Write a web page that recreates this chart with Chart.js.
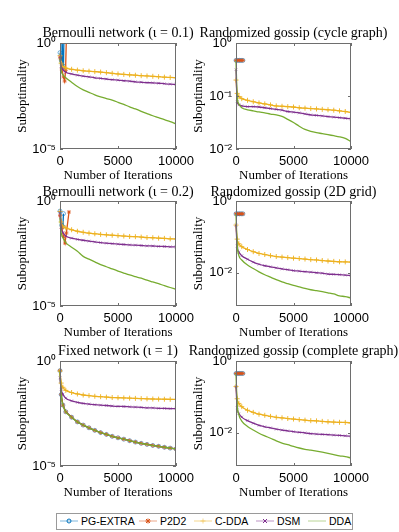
<!DOCTYPE html>
<html>
<head>
<meta charset="utf-8">
<script src="https://cdn.jsdelivr.net/npm/chart.js@4.4.1/dist/chart.umd.min.js"></script>
<style>
  body { margin: 0; background: #fff; width: 399px; height: 532px; position: relative; overflow: hidden; }
  .panel { position: absolute; }
  #legend { position: absolute; left: 56px; top: 513px; width: 295px; height: 15px; border: 1px solid #9a9a9a; background: #fff;
            font-family: 'Liberation Sans', Arial, sans-serif; font-size: 10.5px; color: #000; }
  #legend .item { position: absolute; top: 0; height: 15px; line-height: 15px; white-space: nowrap; }
  #legend svg { vertical-align: middle; margin-right: 3px; margin-top: -2px; }
</style>
</head>
<body>
<div id="legend"></div>
<script>
// Series shared by every panel
const seriesNames = ['PG-EXTRA', 'P2D2', 'C-DDA', 'DSM', 'DDA'];
const seriesColors = ['#0072BD', '#D95319', '#EDB120', '#7E2F8E', '#77AC30'];
const markerColors = ['rgba(0,114,189,0.55)', 'rgba(217,83,25,0.8)', 'rgba(237,177,32,0.9)', 'rgba(126,47,142,0.45)', 'rgba(0,0,0,0)'];
const pointStyles = ['circle', 'star', 'cross', 'crossRot', 'circle'];
const pointRadii = [2, 2, 2.5, 2, 0];

// Iterations sampled along the x axis
const iters = [0, 100, 250, 500, 1000, 1500, 2000, 2500, 3000, 3500, 4000, 4500, 5000, 5500, 6000, 6500, 7000, 7500, 8000, 8500, 9000, 9500, 10000];
const xTickValues = [0, 5000, 10000];

// Bernoulli network (iota = 0.1)
const pgIters1 = [0, 120, 170, 250, 300, 345];
const pg1 = [0.35, 0.15, 3, 0.07, 0.08, 3];
const p2Iters1 = [0, 150, 300, 400, 480, 560];
const p2d21 = [0.2, 0.06, 0.025, 0.016, 0.05, 3];
const cdda1 = [0.25, 0.112, 0.079, 0.066, 0.0575, 0.0525, 0.049, 0.0468, 0.0447, 0.0427, 0.0398, 0.0372, 0.0347, 0.0331, 0.0316, 0.0302, 0.0288, 0.0279, 0.0269, 0.0257, 0.0245, 0.0237, 0.0229];
const dsm1 = [0.224, 0.0794, 0.0562, 0.0417, 0.0347, 0.0302, 0.0275, 0.0251, 0.0229, 0.0214, 0.02, 0.0186, 0.0178, 0.0166, 0.0158, 0.0148, 0.0141, 0.0135, 0.0132, 0.0126, 0.012, 0.0115, 0.0112];
const dda1 = [0.2, 0.05, 0.0316, 0.0229, 0.0141, 0.0089, 0.0062, 0.0047, 0.0036, 0.0029, 0.0024, 0.002, 0.0016, 0.00126, 0.00098, 0.00078, 0.0006, 0.00047, 0.00037, 0.0003, 0.00024, 0.000195, 0.000155];

// Randomized gossip (cycle graph)
const shortIters = [0, 150, 300, 450, 600];
const pg2 = [0.47, 0.47, 0.47, 0.47, 0.47];
const p2d22 = [0.47, 0.47, 0.47, 0.47, 0.47];
const cdda2 = [0.2, 0.112, 0.098, 0.089, 0.083, 0.078, 0.074, 0.071, 0.068, 0.065, 0.064, 0.063, 0.062, 0.06, 0.059, 0.058, 0.057, 0.056, 0.055, 0.054, 0.0525, 0.051, 0.049];
const dsm2 = [0.316, 0.079, 0.068, 0.065, 0.063, 0.063, 0.062, 0.06, 0.058, 0.056, 0.054, 0.051, 0.0495, 0.048, 0.046, 0.044, 0.043, 0.042, 0.041, 0.04, 0.039, 0.038, 0.037];
const dda2 = [0.468, 0.1, 0.071, 0.06, 0.055, 0.0525, 0.05, 0.048, 0.0457, 0.0442, 0.0412, 0.0363, 0.0316, 0.0269, 0.0234, 0.0216, 0.0204, 0.0195, 0.0186, 0.0178, 0.017, 0.0158, 0.0138];

// Bernoulli network (iota = 0.2)
const pgIters3 = [0, 150, 250, 300];
const pg3 = [0.33, 0.07, 0.06, 0.25];
const p2Iters3 = [0, 150, 300, 430, 550, 775];
const p2d23 = [0.2, 0.05, 0.02, 0.01, 0.03, 0.3];
const cdda3 = [0.316, 0.1, 0.063, 0.0525, 0.0427, 0.0363, 0.0324, 0.0295, 0.0275, 0.0257, 0.0245, 0.0234, 0.0224, 0.0214, 0.0204, 0.02, 0.0191, 0.0182, 0.0178, 0.017, 0.0166, 0.0158, 0.0155];
const dsm3 = [0.282, 0.0562, 0.0316, 0.0214, 0.017, 0.0148, 0.0135, 0.0123, 0.0112, 0.0105, 0.0098, 0.0093, 0.0089, 0.0085, 0.0081, 0.0079, 0.0076, 0.0073, 0.0072, 0.0069, 0.0068, 0.0066, 0.0065];
const dda3 = [0.158, 0.0316, 0.0178, 0.0105, 0.0063, 0.004, 0.0023, 0.0017, 0.00126, 0.00093, 0.00074, 0.00058, 0.00046, 0.00037, 0.0003, 0.00025, 0.00021, 0.00017, 0.00014, 0.000115, 0.000093, 0.000076, 0.000062];

// Randomized gossip (2D grid)
const pg4 = [0.44, 0.44, 0.44, 0.44, 0.44];
const p2d24 = [0.44, 0.44, 0.44, 0.44, 0.44];
const cdda4 = [0.214, 0.087, 0.0646, 0.0537, 0.0447, 0.0389, 0.0347, 0.0324, 0.0302, 0.0285, 0.0275, 0.0266, 0.0257, 0.0251, 0.0243, 0.0234, 0.0229, 0.0221, 0.0214, 0.0209, 0.0204, 0.0202, 0.02];
const dsm4 = [0.214, 0.056, 0.038, 0.03, 0.024, 0.02, 0.0174, 0.0158, 0.0148, 0.0138, 0.0129, 0.0123, 0.0116, 0.0112, 0.0108, 0.0105, 0.0101, 0.0098, 0.0093, 0.0091, 0.0089, 0.0087, 0.0085];
const dda4 = [0.437, 0.063, 0.0302, 0.0229, 0.0166, 0.0132, 0.0107, 0.0089, 0.0076, 0.0065, 0.0056, 0.005, 0.0045, 0.0041, 0.0037, 0.0034, 0.0032, 0.003, 0.0028, 0.0026, 0.0023, 0.0022, 0.002];

// Fixed network (iota = 1)
const pg5 = [0.347, 0.0251, 0.0079, 0.0038, 0.0021, 0.00126, 0.00089, 0.00066, 0.0005, 0.00039, 0.00032, 0.00026, 0.00022, 0.00019, 0.00016, 0.000138, 0.00012, 0.000107, 0.000095, 0.000087, 0.000078, 0.000071, 0.000065];
const p2d25 = [0.347, 0.0251, 0.0079, 0.0038, 0.0021, 0.00126, 0.00089, 0.00066, 0.0005, 0.00039, 0.00032, 0.00026, 0.00022, 0.00019, 0.00016, 0.000138, 0.00012, 0.000107, 0.000095, 0.000087, 0.000078, 0.000071, 0.000065];
const cdda5 = [0.331, 0.089, 0.056, 0.0398, 0.0316, 0.0269, 0.024, 0.0224, 0.0209, 0.02, 0.0191, 0.0182, 0.0178, 0.0174, 0.017, 0.0166, 0.0162, 0.0158, 0.0155, 0.0153, 0.0151, 0.015, 0.0148];
const dsm5 = [0.158, 0.0447, 0.0263, 0.017, 0.0126, 0.0107, 0.0095, 0.0089, 0.0083, 0.0079, 0.0076, 0.0072, 0.0069, 0.0068, 0.0066, 0.0064, 0.0062, 0.0059, 0.0058, 0.0056, 0.0055, 0.0054, 0.0054];
const dda5 = [0.347, 0.0251, 0.0079, 0.0038, 0.0021, 0.00126, 0.00089, 0.00066, 0.0005, 0.00039, 0.00032, 0.00026, 0.00022, 0.00019, 0.00016, 0.000138, 0.00012, 0.000107, 0.000095, 0.000087, 0.000078, 0.000071, 0.000065];

// Randomized gossip (complete graph)
const pg6 = [0.45, 0.45, 0.45, 0.45, 0.45];
const p2d26 = [0.45, 0.45, 0.45, 0.45, 0.45];
const cdda6 = [0.195, 0.089, 0.066, 0.0537, 0.0427, 0.0372, 0.0331, 0.0309, 0.0288, 0.0272, 0.0263, 0.0251, 0.0243, 0.0234, 0.0226, 0.0219, 0.0216, 0.0209, 0.0204, 0.02, 0.0197, 0.0195, 0.019];
const dsm6 = [0.195, 0.05, 0.0347, 0.0275, 0.0219, 0.0186, 0.0162, 0.0148, 0.0138, 0.0127, 0.012, 0.0114, 0.0108, 0.0104, 0.01, 0.0095, 0.0093, 0.0091, 0.0089, 0.0087, 0.0085, 0.0083, 0.0081];
const dda6 = [0.447, 0.063, 0.0316, 0.0214, 0.0151, 0.012, 0.0098, 0.0083, 0.0071, 0.006, 0.0052, 0.0047, 0.0042, 0.0038, 0.0035, 0.0033, 0.0031, 0.0029, 0.0027, 0.0025, 0.0023, 0.0022, 0.002];

const panels = [
  { title: 'Bernoulli network (ι = 0.1)', yMin: 1e-5, yTicks: [1e-5, 1],
    series: [[pgIters1, pg1], [p2Iters1, p2d21], [iters, cdda1], [iters, dsm1], [iters, dda1]] },
  { title: 'Randomized gossip (cycle graph)', yMin: 1e-2, yTicks: [1e-2, 1e-1, 1],
    series: [[shortIters, pg2], [shortIters, p2d22], [iters, cdda2], [iters, dsm2], [iters, dda2]] },
  { title: 'Bernoulli network (ι = 0.2)', yMin: 1e-5, yTicks: [1e-5, 1],
    series: [[pgIters3, pg3], [p2Iters3, p2d23], [iters, cdda3], [iters, dsm3], [iters, dda3]] },
  { title: 'Randomized gossip (2D grid)', yMin: 0.0012, yTicks: [1e-2, 1],
    series: [[shortIters, pg4], [shortIters, p2d24], [iters, cdda4], [iters, dsm4], [iters, dda4]] },
  { title: 'Fixed network (ι = 1)', yMin: 1e-5, yTicks: [1e-5, 1],
    series: [[iters, pg5], [iters, p2d25], [iters, cdda5], [iters, dsm5], [iters, dda5]] },
  { title: 'Randomized gossip (complete graph)', yMin: 0.0012, yTicks: [1e-2, 1],
    series: [[shortIters, pg6], [shortIters, p2d26], [iters, cdda6], [iters, dsm6], [iters, dda6]] }
];

// Layout of the grid (canvas boxes)
const colLeft = [0, 176];
const colWidth = [236, 235];
const rowTop = [25, 184, 343];
const rowHeight = [159, 157, 158];
const titleGap = [2, 1, 2];

const serif = "'Liberation Serif', 'Times New Roman', serif";
const sans = "'Liberation Sans', Arial, sans-serif";
const supMap = { '0': '⁰', '1': '¹', '2': '²', '3': '³', '4': '⁴', '5': '⁵', '-': '⁻' };

function powLabel(v) {
  const e = Math.round(Math.log10(v));
  return '10' + String(e).split('').map(c => supMap[c]).join('');
}

function pairs(xs, ys) {
  return xs.map((x, i) => ({ x: x, y: ys[i] }));
}

// Axes box with inward tick marks, like the original figure
const boxPlugin = {
  id: 'axesBox',
  afterDatasetsDraw(chart) {
    const { ctx, chartArea: a, scales } = chart;
    ctx.save();
    ctx.strokeStyle = '#6e6e6e';
    ctx.lineWidth = 1;
    ctx.strokeRect(a.left + 0.5, a.top + 0.5, a.width - 1, a.height - 1);
    ctx.beginPath();
    scales.x.ticks.forEach(t => {
      const px = Math.round(scales.x.getPixelForValue(t.value)) + 0.5;
      ctx.moveTo(px, a.bottom); ctx.lineTo(px, a.bottom - 3);
      ctx.moveTo(px, a.top); ctx.lineTo(px, a.top + 3);
    });
    scales.y.ticks.forEach(t => {
      const py = Math.round(scales.y.getPixelForValue(t.value)) + 0.5;
      ctx.moveTo(a.left, py); ctx.lineTo(a.left + 3, py);
      ctx.moveTo(a.right, py); ctx.lineTo(a.right - 3, py);
    });
    ctx.stroke();
    ctx.restore();
  }
};

function makeDataset(k, xs, ys) {
  return {
    label: seriesNames[k],
    data: pairs(xs, ys),
    borderColor: seriesColors[k],
    borderWidth: 1.3,
    pointStyle: pointStyles[k],
    pointRadius: pointRadii[k],
    pointBorderColor: markerColors[k],
    pointBackgroundColor: k === 1 ? markerColors[k] : 'rgba(0,0,0,0)',
    pointBorderWidth: 1,
    tension: 0,
    cubicInterpolationMode: k >= 2 ? 'monotone' : 'default',
    order: 5 - k,
    clip: { left: 4, top: 0, right: 0, bottom: 0 }
  };
}

panels.forEach(function(p, i) {
  const col = i % 2;
  const row = Math.floor(i / 2);
  const box = document.createElement('div');
  box.className = 'panel';
  box.style.left = colLeft[col] + 'px';
  box.style.top = rowTop[row] + 'px';
  const canvas = document.createElement('canvas');
  canvas.width = colWidth[col];
  canvas.height = rowHeight[row];
  box.appendChild(canvas);
  document.body.appendChild(box);

  new Chart(canvas, {
    type: 'line',
    data: { datasets: p.series.map((s, k) => makeDataset(k, s[0], s[1])) },
    options: {
      responsive: false,
      animation: false,
      layout: { padding: 0 },
      plugins: {
        legend: { display: false },
        tooltip: { enabled: false },
        title: {
          display: true,
          text: p.title,
          color: '#000',
          font: { family: serif, size: 14, weight: 'normal', lineHeight: '16px' },
          padding: { top: 0, bottom: titleGap[row] }
        }
      },
      scales: {
        x: {
          type: 'linear',
          min: 0,
          max: 10000,
          afterBuildTicks: s => { s.ticks = xTickValues.map(v => ({ value: v })); },
          afterFit: s => { s.height = 35; },
          grid: { display: false, drawTicks: false },
          border: { display: false },
          ticks: { color: '#000', font: { family: sans, size: 13 }, padding: 5, maxRotation: 0, autoSkip: false, callback: v => String(v) },
          title: {
            display: true, text: 'Number of Iterations', color: '#000',
            font: { family: serif, size: 13, lineHeight: '16px' }, padding: { top: 0, bottom: 0 }
          }
        },
        y: {
          type: 'logarithmic',
          min: p.yMin,
          max: 1,
          afterBuildTicks: s => { s.ticks = p.yTicks.map(v => ({ value: v })); },
          afterFit: s => { s.width = 60; },
          grid: { display: false, drawTicks: false },
          border: { display: false },
          ticks: { color: '#000', font: { family: sans, size: 13 }, padding: 4, autoSkip: false, callback: v => powLabel(v) },
          title: {
            display: true, text: 'Suboptimality', color: '#000',
            font: { family: serif, size: 13, lineHeight: '16px' }, padding: { top: 15, bottom: 0 }
          }
        },
        // empty right axis so the title is centred over the plot box
        yPad: {
          position: 'right',
          display: true,
          afterFit: s => { s.width = 60; },
          grid: { display: false, drawTicks: false },
          border: { display: false },
          ticks: { display: false }
        }
      }
    },
    plugins: [boxPlugin]
  });
});

// Legend, as in the figure: line sample with marker, then name
const legendLefts = [3, 82, 137, 199, 251];
function markerSvg(k) {
  const c = seriesColors[k];
  let m = '';
  if (k === 0) m = `<circle cx="9" cy="4" r="2" fill="none" stroke="${c}" stroke-width="1"/>`;
  if (k === 1) m = `<path d="M7 2L11 6M11 2L7 6M9 1.5V6.5M6.5 4H11.5" stroke="${c}" stroke-width="1"/>`;
  if (k === 2) m = `<path d="M9 1.5V6.5M6.5 4H11.5" stroke="${c}" stroke-width="0.8" opacity="0.6"/>`;
  if (k === 3) m = `<path d="M7 2L11 6M11 2L7 6" stroke="${c}" stroke-width="1"/>`;
  return `<svg width="18" height="8"><line x1="0" y1="4" x2="18" y2="4" stroke="${c}" stroke-width="1" opacity="0.5"/>${m}</svg>`;
}
const legend = document.getElementById('legend');
seriesNames.forEach(function(name, k) {
  const item = document.createElement('span');
  item.className = 'item';
  item.style.left = legendLefts[k] + 'px';
  item.innerHTML = markerSvg(k) + name;
  legend.appendChild(item);
});
</script>
</body>
</html>
